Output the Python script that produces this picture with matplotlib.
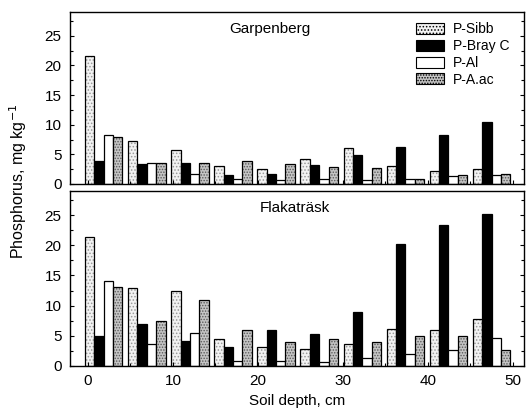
import numpy as np
import matplotlib
matplotlib.use("Agg")
import matplotlib.pyplot as plt
from matplotlib.patches import Patch

plt.rcParams['font.family'] = ['Liberation Sans', 'DejaVu Sans']
plt.rcParams['hatch.linewidth'] = 0.7

# datos
depths = [0, 5, 10, 15, 20, 25, 30, 35, 40, 45]
series = ['P-Sibb', 'P-Bray C', 'P-Al', 'P-A.ac']
sites = ['Garpenberg', 'Flakaträsk']

garp_sibb = [21.6, 7.3, 5.7, 3.0, 2.6, 4.2, 6.0, 3.1, 2.2, 2.5]
garp_bray = [3.8, 3.4, 3.6, 1.5, 1.7, 3.2, 4.9, 6.3, 8.3, 10.4]
garp_al = [8.3, 3.6, 1.7, 0.8, 0.7, 0.8, 0.7, 0.9, 1.3, 1.5]
garp_aac = [8.0, 3.6, 3.5, 3.9, 3.4, 2.9, 2.7, 0.9, 1.5, 1.7]

flak_sibb = [21.4, 13.0, 12.5, 4.5, 3.1, 2.8, 3.7, 6.1, 6.0, 7.8]
flak_bray = [5.0, 7.0, 4.2, 3.2, 5.9, 5.3, 9.0, 20.2, 23.3, 25.2]
flak_al = [14.1, 3.6, 5.4, 0.8, 0.8, 0.6, 1.4, 2.0, 2.7, 4.7]
flak_aac = [13.1, 7.4, 10.9, 5.9, 4.0, 4.5, 4.0, 5.0, 4.9, 2.7]

datos = [[garp_sibb, garp_bray, garp_al, garp_aac],
         [flak_sibb, flak_bray, flak_al, flak_aac]]

# estilo de cada serie: (color de fondo, trama, color de trama)
estilos = [('#f2f2f2', '.....', '#9a9a9a'),
           ('black', None, 'black'),
           ('white', None, 'black'),
           ('#c4c4c4', '......', '#5a5a5a')]

ancho = 1.1
x0 = np.array(depths) * 1.014 - 0.35

fig = plt.figure(figsize=(5.27, 4.12), dpi=100)
ax1 = fig.add_axes([0.1328, 0.5534, 0.8615, 0.4175])
ax2 = fig.add_axes([0.1328, 0.1117, 0.8615, 0.4248])

for ax, vals, nombre, xpos in zip([ax1, ax2], datos, sites, [0.44, 0.496]):
    for i, v in enumerate(vals):
        fc, hatch, hc = estilos[i]
        xs = x0 + i * ancho
        if hatch:
            ax.bar(xs, v, width=ancho, align='edge', facecolor=fc,
                   hatch=hatch, edgecolor=hc, linewidth=0)
            ax.bar(xs, v, width=ancho, align='edge', facecolor='none',
                   edgecolor='black', linewidth=0.9)
        else:
            ax.bar(xs, v, width=ancho, align='edge', facecolor=fc,
                   edgecolor='black', linewidth=0.9)
    ax.set_xlim(-2.12, 51.3)
    ax.set_ylim(0, 29)
    ax.set_yticks([0, 5, 10, 15, 20, 25])
    ax.set_yticks(np.arange(0, 29, 2.5), minor=True)
    ax.set_xticks([0, 10, 20, 30, 40, 50])
    ax.set_xticks(np.arange(0, 51, 5), minor=True)
    ax.tick_params(which='both', direction='in', right=True, top=False,
                   labelsize=11, length=3, width=0.8, pad=6)
    ax.tick_params(which='minor', length=2)
    for s in ax.spines.values():
        s.set_linewidth(1.0)
    ax.text(xpos, 0.90, nombre, transform=ax.transAxes, ha='center',
            va='center', fontsize=11)

ax1.tick_params(axis='x', labelbottom=False)

handles = []
for i in range(4):
    fc, hatch, hc = estilos[i]
    handles.append(Patch(facecolor=fc, edgecolor='black', hatch=hatch,
                         linewidth=0.8))
ax1.legend(handles, series, loc='upper right', bbox_to_anchor=(0.99, 1.0),
           frameon=False, fontsize=10, handlelength=2.0, handleheight=0.85,
           labelspacing=0.2, handletextpad=0.6, borderaxespad=0.35)

ax2.set_xlabel('Soil depth, cm', fontsize=11, labelpad=4)
fig.text(0.035, 0.56, r'Phosphorus, mg kg$^{-1}$', rotation=90,
         ha='center', va='center', fontsize=11.5)

plt.savefig('out.png', dpi=100)
